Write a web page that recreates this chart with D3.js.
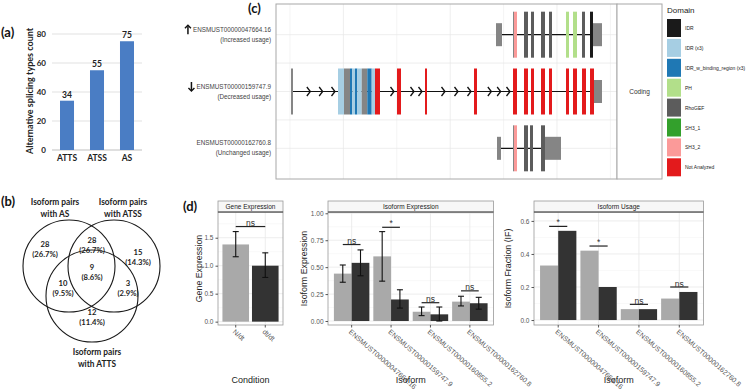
<!DOCTYPE html>
<html><head><meta charset="utf-8">
<script src="https://cdn.jsdelivr.net/npm/d3@7"></script>
<style>body{margin:0;background:#fff}svg{display:block}</style>
</head><body>
<svg id="c" width="746" height="390"></svg>
<script>
// ================= DATA =================
// (a) alternative splicing counts
const spliceTypes = ["ATTS", "ATSS", "AS"];
const spliceCounts = [34, 55, 75];
const spliceTicks = [0, 20, 40, 60, 80];

// (b) Venn
const vennSetNames = [["Isoform pairs", "with AS"], ["Isoform pairs", "with ATSS"], ["Isoform pairs", "with ATTS"]];
const vennRegionKeys = ["AS", "AS&ATSS", "ATSS", "AS&ATSS&ATTS", "AS&ATTS", "ATSS&ATTS", "ATTS"];
const vennCounts = [28, 28, 15, 9, 10, 3, 12];
const vennPercents = ["26.7%", "26.7%", "14.3%", "8.6%", "9.5%", "2.9%", "11.4%"];

// (c) transcripts, exons as [type, start, end] in relative genomic units
const transcripts = ["ENSMUST00000047664.16", "ENSMUST00000159747.9", "ENSMUST00000162760.8"];
const usageLabels = ["(Increased usage)", "(Decreased usage)", "(Unchanged usage)"];
const usageArrows = ["up", "down", ""];
const domainNames = ["IDR", "IDR (x3)", "IDR_w_binding_region (x3)", "PH", "RhoGEF", "SH3_1", "SH3_2", "Not Analyzed"];
const domainColors = ["#1a1a1a", "#a6cee3", "#1f78b4", "#b2df8a", "#5c5c5c", "#33a02c", "#fb9a99", "#e31a1c"];
const tx1Exons = [["UTR",220,226],["CDS",237,238],["SH3_2",238,241],["RhoGEF",248,252],["RhoGEF",255,258],["RhoGEF",265,269],["RhoGEF",273,276],["PH",290,293],["PH",297,301],["RhoGEF",306,309],["IDR",314,317],["UTR",317,326]];
const tx2Exons = [["CDS",15,17],["IDR (x3)",62,68],["CDS",68,74],["IDR_w_binding_region (x3)",74,76.3],["IDR (x3)",76.3,79],["IDR_w_binding_region (x3)",79,81.3],["IDR (x3)",81.3,85.7],["CDS",85.7,91.3],["IDR_w_binding_region (x3)",91.3,95.7],["IDR (x3)",95.7,99],["Not Analyzed",99,104],
  ["Not Analyzed",121,125],["Not Analyzed",149,151],["Not Analyzed",198,201],["Not Analyzed",237,241],["Not Analyzed",248,252],["Not Analyzed",255,258],["Not Analyzed",265,269],["Not Analyzed",273,276],["Not Analyzed",290,293],["Not Analyzed",297,301],["Not Analyzed",306,310],["Not Analyzed",314,318],["UTR",318,326]];
const tx3Exons = [["UTR",221,225],["CDS",237,238],["SH3_2",238,241],["RhoGEF",248,252],["RhoGEF",254,257],["RhoGEF",265,269],["UTR",269,285]];
const txExons = [tx1Exons, tx2Exons, tx3Exons];
const txHasArrows = [false, true, false];
const cGridTicks = [14, 67.4, 120.8, 174.2, 227.6, 281, 334.4];
const facetLabel = "Coding";

// (d) expression
const conditions = ["N/dt", "dt/dt"];
const geneMean = [1.38, 1.00];
const geneLo = [1.16, 0.79];
const geneHi = [1.61, 1.23];
const geneSig = ["ns"];
const geneSigY = [1.70];
const geneTicks = [0, 0.5, 1.0, 1.5];

const isoforms = ["ENSMUST00000047664.16", "ENSMUST00000159747.9", "ENSMUST00000160855.2", "ENSMUST00000162760.8"];
const isoExprNdt = [0.44, 0.60, 0.086, 0.18];
const isoExprDtdt = [0.54, 0.20, 0.062, 0.165];
const isoExprNdtLo = [0.36, 0.37, 0.05, 0.14];
const isoExprNdtHi = [0.52, 0.83, 0.13, 0.23];
const isoExprDtdtLo = [0.42, 0.12, 0.00, 0.11];
const isoExprDtdtHi = [0.66, 0.29, 0.13, 0.22];
const isoExprSig = ["ns", "*", "ns", "ns"];
const isoExprSigY = [0.71, 0.87, 0.17, 0.28];
const isoExprTicks = [0, 0.25, 0.5, 0.75, 1.0];

const isoUsageNdt = [0.33, 0.42, 0.066, 0.13];
const isoUsageDtdt = [0.54, 0.20, 0.066, 0.17];
const isoUsageSig = ["*", "*", "ns", "ns"];
const isoUsageSigY = [0.567, 0.448, 0.095, 0.20];
const isoUsageTicks = [0, 0.2, 0.4, 0.6];

// ================= DRAW =================
const svg = d3.select("#c");
const LATO = "Lato, 'Open Sans', sans-serif";
const ARIAL = "'Liberation Sans', Arial, Helvetica, sans-serif";

function T(g, x, y, s, o = {}) {
  const t = g.append("text")
    .attr("transform", `translate(${x},${y}) scale(${o.sx || 1},1) rotate(${o.rot || 0})`)
    .attr("font-family", o.family || ARIAL)
    .attr("font-size", o.size || 8)
    .attr("font-weight", o.weight || "normal")
    .attr("text-anchor", o.anchor || "middle")
    .attr("fill", o.fill || "#222")
    .text(s);
  if (o.dy) t.attr("dy", o.dy);
  return t;
}

// ---------- (a) ----------
{
  const g = svg.append("g");
  const y = d3.scaleLinear().domain([0, 80]).range([150, 34]);
  const x = d3.scaleBand().domain(spliceTypes).range([52, 142]).paddingInner(0.533).paddingOuter(0.267);
  g.selectAll(".gl").data(spliceTicks.slice(1)).join("line")
    .attr("x1", 52).attr("x2", 142).attr("y1", d => y(d)).attr("y2", d => y(d))
    .attr("stroke", "#d9d9d9").attr("stroke-width", 0.8);
  g.append("line").attr("x1", 52).attr("x2", 142).attr("y1", y(0)).attr("y2", y(0)).attr("stroke", "#bfbfbf").attr("stroke-width", 1);
  g.selectAll(".bar").data(spliceTypes).join("rect")
    .attr("x", d => x(d)).attr("width", x.bandwidth())
    .attr("y", (d, i) => y(spliceCounts[i])).attr("height", (d, i) => y(0) - y(spliceCounts[i]))
    .attr("fill", "#4a7dc4");
  const ya = d3.axisLeft(y).tickValues(spliceTicks).tickSize(0).tickPadding(4);
  const ag = g.append("g").attr("transform", "translate(50,0)").call(ya);
  ag.select(".domain").remove();
  ag.selectAll("text").attr("font-family", LATO).attr("font-weight", "bold").attr("font-size", 8).attr("fill", "#222");
  const xa = d3.axisBottom(x).tickSize(0).tickPadding(5);
  const xg = g.append("g").attr("transform", `translate(0,${y(0)})`).call(xa);
  xg.select(".domain").remove();
  xg.selectAll("text").attr("font-family", LATO).attr("font-weight", "bold").attr("font-size", 8.5).attr("fill", "#222");
  spliceTypes.forEach((d, i) => T(g, x(d) + x.bandwidth() / 2, y(spliceCounts[i]) - 3, String(spliceCounts[i]), {family: LATO, weight: "bold", size: 8.5}));
  T(g, 30, 91, "Alternative splicing types count", {family: LATO, weight: "bold", size: 9, rot: -90, dy: "0.35em"});
  T(svg, 1, 37, "(a)", {family: LATO, weight: "bold", size: 13, anchor: "start", fill: "#111"});
}

// ---------- (b) ----------
{
  const g = svg.append("g");
  const circles = [{cx: 69, cy: 266, r: 46}, {cx: 114, cy: 266, r: 46}, {cx: 92, cy: 296, r: 46}];
  g.selectAll("circle").data(circles).join("circle")
    .attr("cx", d => d.cx).attr("cy", d => d.cy).attr("r", d => d.r)
    .attr("fill", "none").attr("stroke", "#1a1a1a").attr("stroke-width", 1.1);
  const titlePos = [[55, 202], [123, 202], [97, 352]];
  vennSetNames.forEach((lines, i) => lines.forEach((l, j) =>
    T(g, titlePos[i][0], titlePos[i][1] + j * 12, l, {family: LATO, weight: "bold", size: 9.5, dy: "0.35em", sx: 0.88})));
  const regionPos = {"AS": [45, 244], "AS&ATSS": [92, 240], "ATSS": [138, 252], "AS&ATSS&ATTS": [92, 267], "AS&ATTS": [63, 283], "ATSS&ATTS": [128, 283], "ATTS": [92, 312]};
  vennRegionKeys.forEach((k, i) => {
    const p = regionPos[k];
    T(g, p[0], p[1], String(vennCounts[i]), {family: LATO, weight: "bold", size: 8.3, dy: "0.35em", sx: 0.92});
    T(g, p[0], p[1] + 10, "(" + vennPercents[i] + ")", {family: LATO, weight: "bold", size: 8.3, dy: "0.35em", sx: 0.92});
  });
  T(svg, 1, 206, "(b)", {family: LATO, weight: "bold", size: 13, anchor: "start", fill: "#111"});
}

// ---------- (c) ----------
{
  const g = svg.append("g");
  const X0 = 276, X1 = 617, Y0 = 4, Y1 = 179;
  const x = d3.scaleLinear().domain([0, 341]).range([X0, X1]);
  const y = d3.scaleLinear().domain([-0.54, 2.54]).range([Y0, Y1]);
  g.append("rect").attr("x", X0).attr("y", Y0).attr("width", X1 - X0).attr("height", Y1 - Y0).attr("fill", "#fff");
  g.selectAll(".vg").data(cGridTicks).join("line")
    .attr("x1", d => x(d)).attr("x2", d => x(d)).attr("y1", Y0).attr("y2", Y1)
    .attr("stroke", (d, i) => i % 2 ? "#e6e6e6" : "#efefef").attr("stroke-width", 0.7);
  g.selectAll(".hg").data([0, 0.5, 1, 1.5, 2]).join("line")
    .attr("x1", X0).attr("x2", X1).attr("y1", d => y(d)).attr("y2", d => y(d))
    .attr("stroke", "#e6e6e6").attr("stroke-width", 0.7);
  const colorOf = t => t === "UTR" || t === "CDS" ? "#858585" : domainColors[domainNames.indexOf(t)];
  const FULL = 23, HALF = 11.5;
  txExons.forEach((ex, r) => {
    const cy = y(r);
    const sorted = ex.slice().sort((a, b) => a[1] - b[1]);
    g.append("line").attr("x1", x(sorted[0][2])).attr("x2", x(sorted[sorted.length - 1][1]))
      .attr("y1", cy).attr("y2", cy).attr("stroke", "#111").attr("stroke-width", 1.2);
    if (txHasArrows[r]) {
      for (let k = 0; k < sorted.length - 1; k++) {
        const a = x(sorted[k][2]), b = x(sorted[k + 1][1]);
        const len = b - a;
        if (len <= 15) continue;
        const n = Math.floor(len / 12);
        const stepA = (len - 8) / n;
        for (let m = 0; m < n; m++) {
          const tip = b - 3 - m * stepA;
          g.append("path").attr("d", `M${tip - 3.5},${cy - 4.5}L${tip},${cy}L${tip - 3.5},${cy + 4.5}`)
            .attr("fill", "none").attr("stroke", "#111").attr("stroke-width", 1.3);
        }
      }
    }
    g.selectAll(null).data(ex).join("rect")
      .attr("x", d => x(d[1])).attr("width", d => Math.max(0.8, x(d[2]) - x(d[1])))
      .attr("y", d => cy - (d[0] === "UTR" ? HALF : FULL))
      .attr("height", d => 2 * (d[0] === "UTR" ? HALF : FULL))
      .attr("fill", d => colorOf(d[0]));
  });
  g.append("rect").attr("x", X0).attr("y", Y0).attr("width", X1 - X0).attr("height", Y1 - Y0).attr("fill", "none").attr("stroke", "#a8a8a8");
  // facet strip
  g.append("rect").attr("x", X1).attr("y", Y0).attr("width", 45).attr("height", Y1 - Y0).attr("fill", "#fff").attr("stroke", "#a8a8a8");
  T(g, X1 + 22.5, y(1), facetLabel, {size: 6.5, dy: "0.35em", fill: "#333"});
  // transcript labels
  transcripts.forEach((t, i) => {
    const tx = T(g, 271, y(i) - 3, t, {size: 6.3, anchor: "end", fill: "#444"});
    T(g, 271, y(i) + 7, usageLabels[i], {size: 6.3, anchor: "end", fill: "#444"});
    if (usageArrows[i]) {
      const w = tx.node().getComputedTextLength();
      const ax = 271 - w - 5, cy = y(i) - 5;
      const up = usageArrows[i] === "up";
      const t0 = up ? cy - 4.5 : cy + 4.5, t1 = up ? cy + 4.5 : cy - 4.5, d = up ? 1 : -1;
      g.append("path").attr("d", `M${ax},${t1}L${ax},${t0 + d}`).attr("stroke", "#111").attr("stroke-width", 1.5).attr("fill", "none");
      g.append("path").attr("d", `M${ax - 3},${t0 + 3 * d}L${ax},${t0}L${ax + 3},${t0 + 3 * d}`).attr("stroke", "#111").attr("stroke-width", 1.4).attr("fill", "none");
    }
  });
  // legend
  T(g, 667, 13, "Domain", {size: 8, anchor: "start", fill: "#222"});
  domainNames.forEach((d, i) => {
    g.append("rect").attr("x", 667).attr("y", 19 + i * 19.9).attr("width", 14).attr("height", 18).attr("fill", domainColors[i]);
    T(g, 685, 28 + i * 19.9, d, {size: 5.8, anchor: "start", dy: "0.35em", fill: "#222", sx: 0.86});
  });
  T(svg, 248, 13, "(c)", {family: LATO, weight: "bold", size: 13, anchor: "start", fill: "#111"});
}

// ---------- (d) ----------
const LIGHT = "#a9a9a9", DARK = "#333333";
function facet(cfg) {
  const {x0, x1, strip, domain, ticks, fmt, cats, yTitle, yTitleX, xTitle} = cfg;
  const Y0 = 212, Y1 = 325, S0 = 201;
  const g = svg.append("g");
  const x = d3.scaleBand().domain(cats).range([x0, x1]).paddingInner(0.1).paddingOuter(0.15);
  const y = d3.scaleLinear().domain(domain).range([Y1, Y0]);
  g.append("rect").attr("x", x0).attr("y", Y0).attr("width", x1 - x0).attr("height", Y1 - Y0).attr("fill", "#fff");
  const minor = ticks.slice(0, -1).map((t, i) => (t + ticks[i + 1]) / 2);
  const last = ticks[ticks.length - 1] + (ticks[1] - ticks[0]) / 2;
  if (y(last) > Y0) minor.push(last);
  g.selectAll(".mg").data(minor).join("line").attr("x1", x0).attr("x2", x1)
    .attr("y1", d => y(d)).attr("y2", d => y(d)).attr("stroke", "#f2f2f2").attr("stroke-width", 0.5);
  g.selectAll(".Mg").data(ticks).join("line").attr("x1", x0).attr("x2", x1)
    .attr("y1", d => y(d)).attr("y2", d => y(d)).attr("stroke", "#e8e8e8").attr("stroke-width", 0.8);
  g.selectAll(".xg").data(cats).join("line").attr("x1", d => x(d) + x.bandwidth() / 2).attr("x2", d => x(d) + x.bandwidth() / 2)
    .attr("y1", Y0).attr("y2", Y1).attr("stroke", "#e8e8e8").attr("stroke-width", 0.8);
  cfg.draw(g, x, y);
  g.append("rect").attr("x", x0).attr("y", Y0).attr("width", x1 - x0).attr("height", Y1 - Y0).attr("fill", "none").attr("stroke", "#9a9a9a").attr("stroke-width", 0.8);
  // strip
  g.append("rect").attr("x", x0).attr("y", S0).attr("width", x1 - x0).attr("height", Y0 - S0).attr("fill", "#f7f7f7").attr("stroke", "#9a9a9a").attr("stroke-width", 0.8);
  g.append("line").attr("x1", x0).attr("x2", x1).attr("y1", Y0).attr("y2", Y0).attr("stroke", "#333").attr("stroke-width", 0.9);
  T(g, (x0 + x1) / 2, (S0 + Y0) / 2, strip, {size: 6.5, dy: "0.35em", fill: "#222"});
  // axes
  const ay = g.append("g").attr("transform", `translate(${x0},0)`).call(d3.axisLeft(y).tickValues(ticks).tickFormat(d3.format(fmt)).tickSize(2.5).tickPadding(2));
  ay.select(".domain").remove();
  ay.selectAll("line").attr("stroke", "#555");
  ay.selectAll("text").attr("font-family", ARIAL).attr("font-size", 6.5).attr("fill", "#555");
  const ax = g.append("g").attr("transform", `translate(0,${Y1})`).call(d3.axisBottom(x).tickSize(2.5).tickFormat(""));
  ax.select(".domain").remove();
  ax.selectAll("line").attr("stroke", "#555");
  cats.forEach(c => T(g, x(c) + x.bandwidth() / 2 - 2, Y1 + 6, c, {size: 7, anchor: "start", rot: 41, fill: "#555", dy: "0.3em"}));
  T(g, yTitleX, (Y0 + Y1) / 2, yTitle, {size: 8.8, rot: -90, fill: "#222"});
  T(g, (x0 + x1) / 2, 383, xTitle, {size: 9, fill: "#222"});
}
function errBar(g, cx, lo, hi, y) {
  const w = 3;
  g.append("line").attr("x1", cx).attr("x2", cx).attr("y1", y(lo)).attr("y2", y(hi)).attr("stroke", "#111").attr("stroke-width", 1.1);
  [lo, hi].forEach(v => g.append("line").attr("x1", cx - w).attr("x2", cx + w).attr("y1", y(v)).attr("y2", y(v)).attr("stroke", "#111").attr("stroke-width", 1.1));
}
function sig(g, xa, xb, v, label, y) {
  g.append("line").attr("x1", xa).attr("x2", xb).attr("y1", y(v)).attr("y2", y(v)).attr("stroke", "#222").attr("stroke-width", 1.2);
  T(g, (xa + xb) / 2, y(v) - (label === "*" ? 1.5 : 0.5), label, {size: 8.5, fill: "#333"});
}

// Gene Expression
facet({x0: 218, x1: 283, strip: "Gene Expression", domain: [-0.06, 1.96], ticks: geneTicks, fmt: ".1f", cats: conditions,
  yTitle: "Gene Expression", yTitleX: 202, xTitle: "Condition",
  draw: (g, x, y) => {
    conditions.forEach((c, i) => {
      g.append("rect").attr("x", x(c)).attr("width", x.bandwidth()).attr("y", y(geneMean[i])).attr("height", y(0) - y(geneMean[i])).attr("fill", i ? DARK : LIGHT);
      errBar(g, x(c) + x.bandwidth() / 2, geneLo[i], geneHi[i], y);
    });
    sig(g, x(conditions[0]) + x.bandwidth() / 2, x(conditions[1]) + x.bandwidth() / 2, geneSigY[0], geneSig[0], y);
  }});

// Isoform Expression
facet({x0: 328, x1: 493.5, strip: "Isoform Expression", domain: [-0.037, 1.012], ticks: isoExprTicks, fmt: ".2f", cats: isoforms,
  yTitle: "Isoform Expression", yTitleX: 307, xTitle: "Isoform",
  draw: (g, x, y) => {
    const sub = d3.scaleBand().domain(conditions).range([0, x.bandwidth()]);
    isoforms.forEach((iso, i) => {
      const vals = [isoExprNdt[i], isoExprDtdt[i]];
      const los = [isoExprNdtLo[i], isoExprDtdtLo[i]], his = [isoExprNdtHi[i], isoExprDtdtHi[i]];
      conditions.forEach((c, j) => {
        const bx = x(iso) + sub(c);
        g.append("rect").attr("x", bx).attr("width", sub.bandwidth()).attr("y", y(vals[j])).attr("height", y(0) - y(vals[j])).attr("fill", j ? DARK : LIGHT);
        errBar(g, bx + sub.bandwidth() / 2, los[j], his[j], y);
      });
      sig(g, x(iso) + sub.bandwidth() / 2, x(iso) + sub.bandwidth() * 1.5, isoExprSigY[i], isoExprSig[i], y);
    });
  }});

// Isoform Usage
facet({x0: 534, x1: 703.5, strip: "Isoform Usage", domain: [-0.03, 0.654], ticks: isoUsageTicks, fmt: ".1f", cats: isoforms,
  yTitle: "Isoform Fraction (IF)", yTitleX: 511, xTitle: "Isoform",
  draw: (g, x, y) => {
    const sub = d3.scaleBand().domain(conditions).range([0, x.bandwidth()]);
    isoforms.forEach((iso, i) => {
      const vals = [isoUsageNdt[i], isoUsageDtdt[i]];
      conditions.forEach((c, j) => {
        g.append("rect").attr("x", x(iso) + sub(c)).attr("width", sub.bandwidth()).attr("y", y(vals[j])).attr("height", y(0) - y(vals[j])).attr("fill", j ? DARK : LIGHT);
      });
      sig(g, x(iso) + sub.bandwidth() / 2, x(iso) + sub.bandwidth() * 1.5, isoUsageSigY[i], isoUsageSig[i], y);
    });
  }});

T(svg, 183, 211, "(d)", {family: LATO, weight: "bold", size: 13, anchor: "start", fill: "#111"});
</script>
</body></html>
